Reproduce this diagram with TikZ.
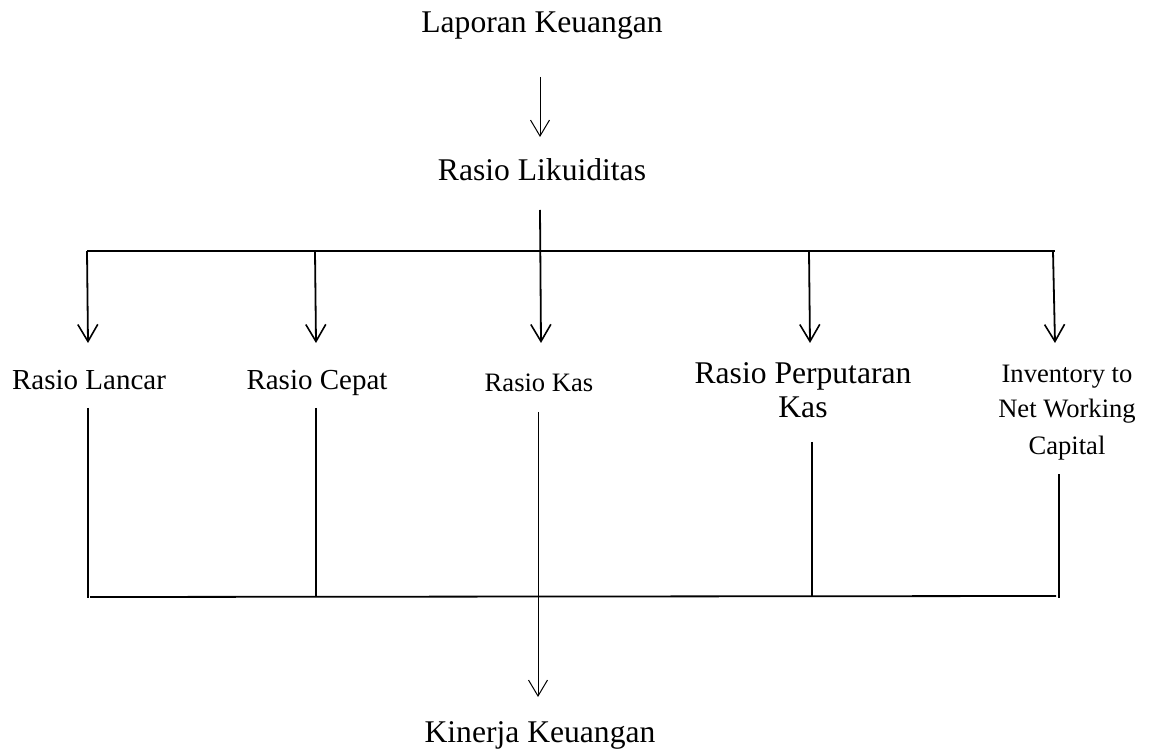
\documentclass[tikz,border=0pt]{standalone}
\usepackage{fontspec}
\setmainfont{Liberation Serif}
\usetikzlibrary{arrows.meta}
\begin{document}
\begin{tikzpicture}[x=1pt,y=-1pt,
  lbl/.style={inner sep=0pt,anchor=base,align=center,font=\fontsize{31.6}{35}\selectfont},
  lblm/.style={lbl,font=\fontsize{29}{33}\selectfont},
  lbls/.style={lbl,font=\fontsize{26.6}{36}\selectfont},
  thinarrow/.style={line width=1pt,-{Straight Barb[length=16pt,width=19pt,line width=1pt]}},
  thickarrow/.style={line width=1.8pt,-{Straight Barb[length=17pt,width=20pt,line width=1.6pt]}},
  thickline/.style={line width=1.8pt},
  midline/.style={line width=1.3pt},
]
\useasboundingbox (0,0) rectangle (1163,751);

% texts
\node[lbl] (lk) at (542,33) {Laporan Keuangan};
\node[lbl] (rl) at (542,181) {Rasio Likuiditas};
\node[lblm] (lancar) at (89,390) {Rasio Lancar};
\node[lblm] (cepat) at (317,390) {Rasio Cepat};
\node[lbls] (kas) at (539,392) {Rasio Kas};
\node[lbl] (perp) at (803,418) {Rasio Perputaran\\Kas};
\node[lbls] (inv) at (1067,454) {Inventory to\\Net Working\\Capital};
\node[lbl] (kk) at (540,742) {Kinerja Keuangan};

% junction coordinates
\coordinate (a1s) at (540,77);
\coordinate (a1e) at (540,137);
\coordinate (stem) at (540,210);
\coordinate (bl) at (87,251);
\coordinate (br) at (1055,251);
\coordinate (b1) at (87,251);   \coordinate (b1e) at (88,343);
\coordinate (b2) at (315,251);  \coordinate (b2e) at (316,343);
\coordinate (b3e) at (541,343);
\coordinate (b4) at (809,251);  \coordinate (b4e) at (810,343);
\coordinate (b5) at (1053,251); \coordinate (b5e) at (1055,343);

\coordinate (u1) at (88,408);   \coordinate (u1e) at (88,598);
\coordinate (u2) at (316,408);  \coordinate (u2e) at (316,596);
\coordinate (u3) at (538,412);  \coordinate (u3e) at (538,697);
\coordinate (u4) at (812,442);  \coordinate (u4e) at (812,596);
\coordinate (u5) at (1059,474); \coordinate (u5e) at (1059,598);
\coordinate (dl) at (90,597);
\coordinate (dr) at (1056,596);

% top arrow
\draw[thinarrow] (a1s) -- (a1e);
% stem and bar
\draw[thickarrow] (stem) -- (b3e);
\draw[thickline] (bl) -- (br);
\draw[thickarrow] (b1) -- (b1e);
\draw[thickarrow] (b2) -- (b2e);
\draw[thickarrow] (b4) -- (b4e);
\draw[thickarrow] (b5) -- (b5e);

% bottom lines
\draw[midline] (u1) -- (u1e);
\draw[midline] (u2) -- (u2e);
\draw[midline] (u4) -- (u4e);
\draw[midline] (u5) -- (u5e);
\draw[thickline] (dl) -- (dr);
\draw[thinarrow] (u3) -- (u3e);
\end{tikzpicture}
\end{document}
